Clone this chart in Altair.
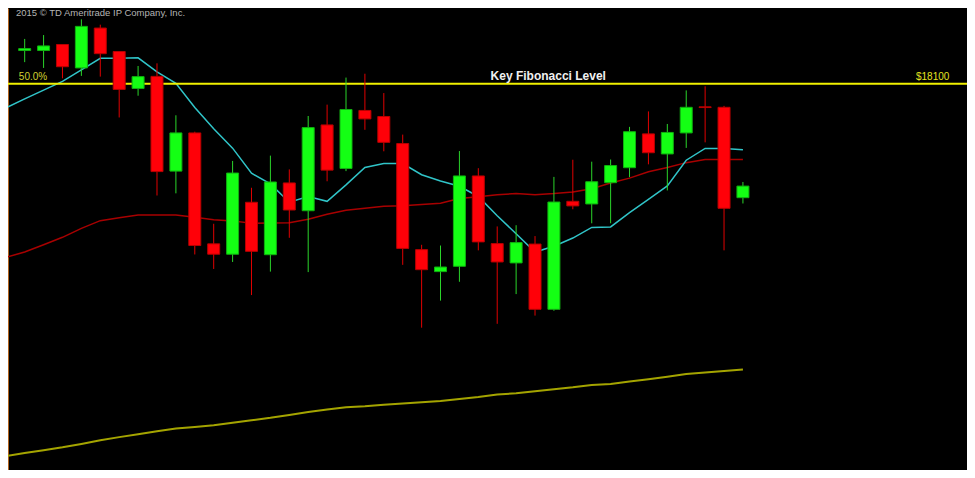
import altair as alt
import pandas as pd

# ---- candle data (price units) ----
candle_idx = list(range(1, 40))
opens = [18238, 18238, 18263, 18166, 18331, 18234, 18081, 18131, 17739, 17897,
         17438, 17395, 17610, 17393, 17690, 17575, 17930, 17750, 17990, 17965,
         17853, 17414, 17323, 17345, 17719, 17439, 17359, 17437, 17167, 17614,
         17603, 17691, 17753, 17893, 17810, 17897, 18005, 18003, 17629]
highs = [18286, 18302, 18263, 18367, 18345, 18234, 18174, 18185, 17970, 17902,
         17521, 17781, 17670, 17803, 17746, 17967, 18014, 18126, 18142, 18062,
         17890, 17434, 17431, 17822, 17751, 17510, 17515, 17470, 17715, 17786,
         17778, 17787, 17922, 17986, 17934, 18073, 18090, 18009, 17694]
lows = [18190, 18166, 18123, 18133, 18130, 17961, 18051, 17638, 17647, 17394,
        17334, 17363, 17226, 17323, 17463, 17321, 17697, 17739, 17910, 17821,
        17351, 17091, 17203, 17281, 17411, 17107, 17230, 17141, 17161, 17581,
        17523, 17523, 17714, 17767, 17659, 17835, 17858, 17411, 17605]
closes = [18246, 18257, 18171, 18338, 18225, 18077, 18130, 17737, 17897, 17431,
          17395, 17731, 17407, 17694, 17578, 17919, 17743, 17994, 17955, 17858,
          17419, 17331, 17342, 17719, 17446, 17363, 17443, 17167, 17611, 17595,
          17695, 17762, 17902, 17815, 17899, 18003, 18002, 17585, 17677]

# ---- moving averages (index 0 is the bar before the first visible candle) ----
ma_idx = list(range(0, 40))
ma_fast = [18000, 18038, 18074, 18110, 18158, 18206, 18206, 18208, 18150, 18102,
           18002, 17914, 17834, 17730, 17686, 17610, 17634, 17614, 17682, 17754,
           17770, 17770, 17724, 17698, 17676, 17634, 17554, 17480, 17404, 17428,
           17462, 17506, 17508, 17567, 17622, 17678, 17784, 17833, 17833, 17827]
ma_mid = [17382, 17404, 17434, 17465, 17502, 17534, 17546, 17557, 17557, 17557,
          17548, 17538, 17533, 17523, 17524, 17525, 17540, 17560, 17577, 17585,
          17594, 17596, 17601, 17606, 17626, 17633, 17641, 17646, 17641, 17646,
          17653, 17666, 17690, 17710, 17736, 17754, 17774, 17787, 17787, 17787]
ma_slow = [16560, 16572, 16584, 16596, 16610, 16625, 16638, 16650, 16662, 16674,
           16680, 16687, 16698, 16708, 16718, 16730, 16742, 16752, 16762, 16766,
           16772, 16777, 16782, 16788, 16796, 16804, 16814, 16820, 16828, 16836,
           16844, 16854, 16858, 16868, 16878, 16888, 16899, 16906, 16912, 16918]

fib_level = 18100
fib_labels = ["50.0%", "Key Fibonacci Level", "$18100"]
fib_label_x = [0.69, 28.7, 49.92]
copyright_text = "2015 © TD Ameritrade IP Company, Inc."

X_DOMAIN = [0.382, 50.59]
Y_DOMAIN = [16502, 18414]
W, H = 959, 462

candles = pd.DataFrame({
    "i": candle_idx, "open": opens, "high": highs, "low": lows, "close": closes,
})
candles["dir"] = ["up" if c >= o else "down" for o, c in zip(opens, closes)]

ma = pd.DataFrame({"i": ma_idx, "fast": ma_fast, "mid": ma_mid, "slow": ma_slow})

xs = alt.Scale(domain=X_DOMAIN, nice=False, zero=False)
ys = alt.Scale(domain=Y_DOMAIN, nice=False, zero=False)
X = alt.X("i:Q", scale=xs, axis=None)

base = alt.Chart(candles)

wick_color = alt.Color("dir:N", scale=alt.Scale(domain=["up", "down"], range=["#2ad42a", "#e00000"]), legend=None)
body_fill = alt.Fill("dir:N", scale=alt.Scale(domain=["up", "down"], range=["#14ff14", "#ff0008"]), legend=None)
body_stroke = alt.Stroke("dir:N", scale=alt.Scale(domain=["up", "down"], range=["#10b010", "#b80000"]), legend=None)

yaxis = alt.Axis(domainColor="#b0621e", domainWidth=1, ticks=False, labels=False, grid=False, title=None)

wicks = base.mark_rule(strokeWidth=1, opacity=1).encode(
    x=X,
    y=alt.Y("low:Q", scale=ys, axis=yaxis),
    y2="high:Q",
    color=wick_color,
)

bodies = base.mark_bar(size=12, strokeWidth=1, opacity=1, fillOpacity=1).encode(
    x=X,
    y=alt.Y("open:Q", scale=ys),
    y2="close:Q",
    fill=body_fill,
    stroke=body_stroke,
)

ma_base = alt.Chart(ma)
line_fast = ma_base.mark_line(color="#30c4c8", strokeWidth=1.5, clip=True).encode(
    x=X, y=alt.Y("fast:Q", scale=ys))
line_mid = ma_base.mark_line(color="#a80000", strokeWidth=1.5, clip=True).encode(
    x=X, y=alt.Y("mid:Q", scale=ys))
line_slow = ma_base.mark_line(color="#a4a400", strokeWidth=2, clip=True).encode(
    x=X, y=alt.Y("slow:Q", scale=ys))

fib_df = pd.DataFrame({"level": [fib_level]})
fib_rule = alt.Chart(fib_df).mark_rule(color="#f0f000", strokeWidth=2).encode(
    y=alt.Y("level:Q", scale=ys))

lab_df = pd.DataFrame({"x": fib_label_x, "y": [fib_level] * 3, "t": fib_labels})
lab_left = alt.Chart(lab_df.iloc[[0]]).mark_text(
    align="left", baseline="alphabetic", dy=-4, font="Liberation Sans", fontSize=10, color="#d0d030"
).encode(x=alt.X("x:Q", scale=xs), y=alt.Y("y:Q", scale=ys), text="t:N")
lab_mid = alt.Chart(lab_df.iloc[[1]]).mark_text(
    align="center", baseline="alphabetic", dy=-4, font="Liberation Sans", fontSize=12, fontWeight="bold", color="#f0f0f0"
).encode(x=alt.X("x:Q", scale=xs), y=alt.Y("y:Q", scale=ys), text="t:N")
lab_right = alt.Chart(lab_df.iloc[[2]]).mark_text(
    align="right", baseline="alphabetic", dy=-4, font="Liberation Sans", fontSize=10, color="#e4e420"
).encode(x=alt.X("x:Q", scale=xs), y=alt.Y("y:Q", scale=ys), text="t:N")

copy_df = pd.DataFrame({"x": [0.536], "y": [18382], "t": [copyright_text]})
copy_txt = alt.Chart(copy_df).mark_text(
    align="left", baseline="alphabetic", font="Liberation Sans", fontSize=9.5, color="#b4b4b4"
).encode(x=alt.X("x:Q", scale=xs), y=alt.Y("y:Q", scale=ys), text="t:N")

chart = alt.layer(
    line_slow, line_mid, line_fast, fib_rule, wicks, bodies,
    lab_left, lab_mid, lab_right, copy_txt
).properties(
    width=W, height=H, padding=0,
    autosize=alt.AutoSizeParams(type="none"),
    background="#000000",
).configure_view(stroke=None)

chart.save("out.html", embed_options={"renderer": "svg", "actions": False})
